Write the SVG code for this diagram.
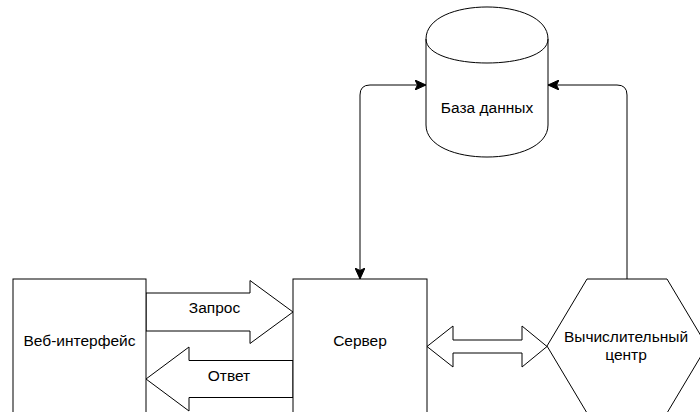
<svg xmlns="http://www.w3.org/2000/svg" width="700" height="412" viewBox="0 0 700 412">
<style>
.shape{fill:#fff;stroke:#000;stroke-width:1}
.line{fill:none;stroke:#000;stroke-width:1}
.lbl{font-family:"Liberation Sans",Arial,sans-serif;font-size:15.5px;fill:#000;text-anchor:middle}
</style>
<defs>
<marker id="arr" viewBox="0 0 11 10" markerWidth="11" markerHeight="10" refX="11" refY="5" orient="auto-start-reverse" markerUnits="userSpaceOnUse">
<path d="M0,0 L11,5 L0,10 L2.5,5 Z" fill="#000" stroke="#000" stroke-width="1"/>
</marker>
</defs>
<rect width="700" height="412" fill="#fff"/>
<g id="connectors">
<path class="line" d="M360,279 L360,95 Q360,85 370,85 L426,85" marker-start="url(#arr)" marker-end="url(#arr)"/>
<path class="line" d="M627,279 L627,95 Q627,85 617,85 L548,85" marker-end="url(#arr)"/>
<g id="arrow-request">
<polygon class="shape" points="146,293 250,293 250,280.5 293,312 250,343.5 250,331 146,331"/>
<text class="lbl" x="214.5" y="313">Запрос</text>
</g>
<g id="arrow-response">
<polygon class="shape" points="293,360.5 189,360.5 189,347 146,379 189,411 189,397.5 293,397.5"/>
<text class="lbl" x="229" y="381">Ответ</text>
</g>
<g id="arrow-server-compute">
<polygon class="shape" points="427,346.5 453,326 453,340 522,340 522,326 547,346.5 522,367 522,353 453,353 453,367"/>
</g>
</g>
<g id="node-database">
<path class="shape" d="M426,39 C426,-3.7 548,-3.7 548,39 L548,125 C548,167.7 426,167.7 426,125 Z"/>
<path class="line" d="M426,39 C426,71 548,71 548,39"/>
<text class="lbl" x="487" y="113">База данных</text>
</g>
<g id="node-web">
<rect class="shape" x="13" y="279" width="133" height="140"/>
<text class="lbl" x="79.5" y="346">Веб-интерфейс</text>
</g>
<g id="node-server">
<rect class="shape" x="293" y="279" width="134" height="140"/>
<text class="lbl" x="360" y="346">Сервер</text>
</g>
<g id="node-compute">
<polygon class="shape" points="587,279 667,279 707,346 667,413 587,413 547,346"/>
<text class="lbl" x="626" y="342">Вычислительный</text>
<text class="lbl" x="626" y="360">центр</text>
</g>
</svg>
